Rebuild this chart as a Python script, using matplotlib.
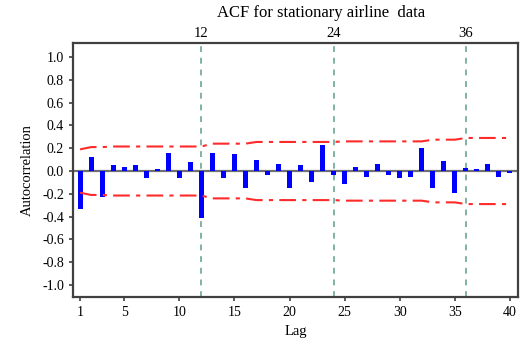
import numpy as np
import matplotlib.pyplot as plt

plt.rcParams['font.family'] = ['Liberation Serif', 'DejaVu Serif']

# ACF values, lags 1..40
lags = np.arange(1, 41)
acf = [-0.33, 0.12, -0.23, 0.05, 0.035, 0.05, -0.065, 0.02, 0.16, -0.065,
       0.075, -0.415, 0.16, -0.065, 0.145, -0.145, 0.10, -0.035, 0.065, -0.145,
       0.05, -0.095, 0.23, -0.035, -0.11, 0.035, -0.05, 0.065, -0.035, -0.065,
       -0.05, 0.205, -0.15, 0.09, -0.19, 0.025, 0.02, 0.065, -0.05, -0.02]

# confidence limits read per lag
upper = [0.19, 0.21, 0.21, 0.215, 0.215, 0.215, 0.215, 0.215, 0.215, 0.215,
         0.215, 0.215, 0.24, 0.24, 0.24, 0.24, 0.255, 0.255, 0.255, 0.255,
         0.255, 0.255, 0.255, 0.255, 0.26, 0.26, 0.26, 0.26, 0.26, 0.26,
         0.26, 0.26, 0.275, 0.275, 0.275, 0.29, 0.29, 0.29, 0.29, 0.29]
lower = [-u for u in upper]

seasonal = [12, 24, 36]
yticks = np.round(np.arange(-1.0, 1.01, 0.2), 1)
ylabels = ['%.1f' % v if abs(v) > 1e-9 else '0.0' for v in yticks]
xticks = [1, 5, 10, 15, 20, 25, 30, 35, 40]

fig = plt.figure(figsize=(5.2, 3.47), dpi=100)
ax = fig.add_axes([0.1404, 0.1441, 0.8558, 0.732])

ax.axhline(0, color='#707070', lw=1.6, zorder=2)
ax.bar(lags, acf, width=0.45, color='#0000ff', zorder=3)
for s in seasonal:
    ax.axvline(s, color='#7fb3a3', lw=1.4, ls=(0, (3, 3)), zorder=1)
ax.plot(lags, upper, color='#ff2a2a', lw=1.5, ls=(0, (8, 3, 2, 3)), zorder=4)
ax.plot(lags, lower, color='#ff2a2a', lw=1.5, ls=(0, (8, 3, 2, 3)), zorder=4)

ax.set_xlim(0.36, 40.73)
ax.set_ylim(-1.105, 1.123)
ax.set_yticks(yticks)
ax.set_yticklabels(ylabels)
ax.set_xticks(xticks)
ax.tick_params(labelsize=10, length=3, width=1.2, color='#404040')
ax.set_xlabel('Lag', fontsize=10.5, labelpad=4)
ax.set_ylabel('Autocorrelation', fontsize=10.5, labelpad=6)
for sp in ax.spines.values():
    sp.set_color('#404040')
    sp.set_linewidth(1.6)

for s in seasonal:
    ax.text(s, 1.145, str(s), ha='center', va='bottom', fontsize=10.5)
fig.text(321 / 520, 1 - 13 / 347, 'ACF for stationary airline  data',
         ha='center', va='center', fontsize=12)

fig.savefig('out.png', dpi=100)
